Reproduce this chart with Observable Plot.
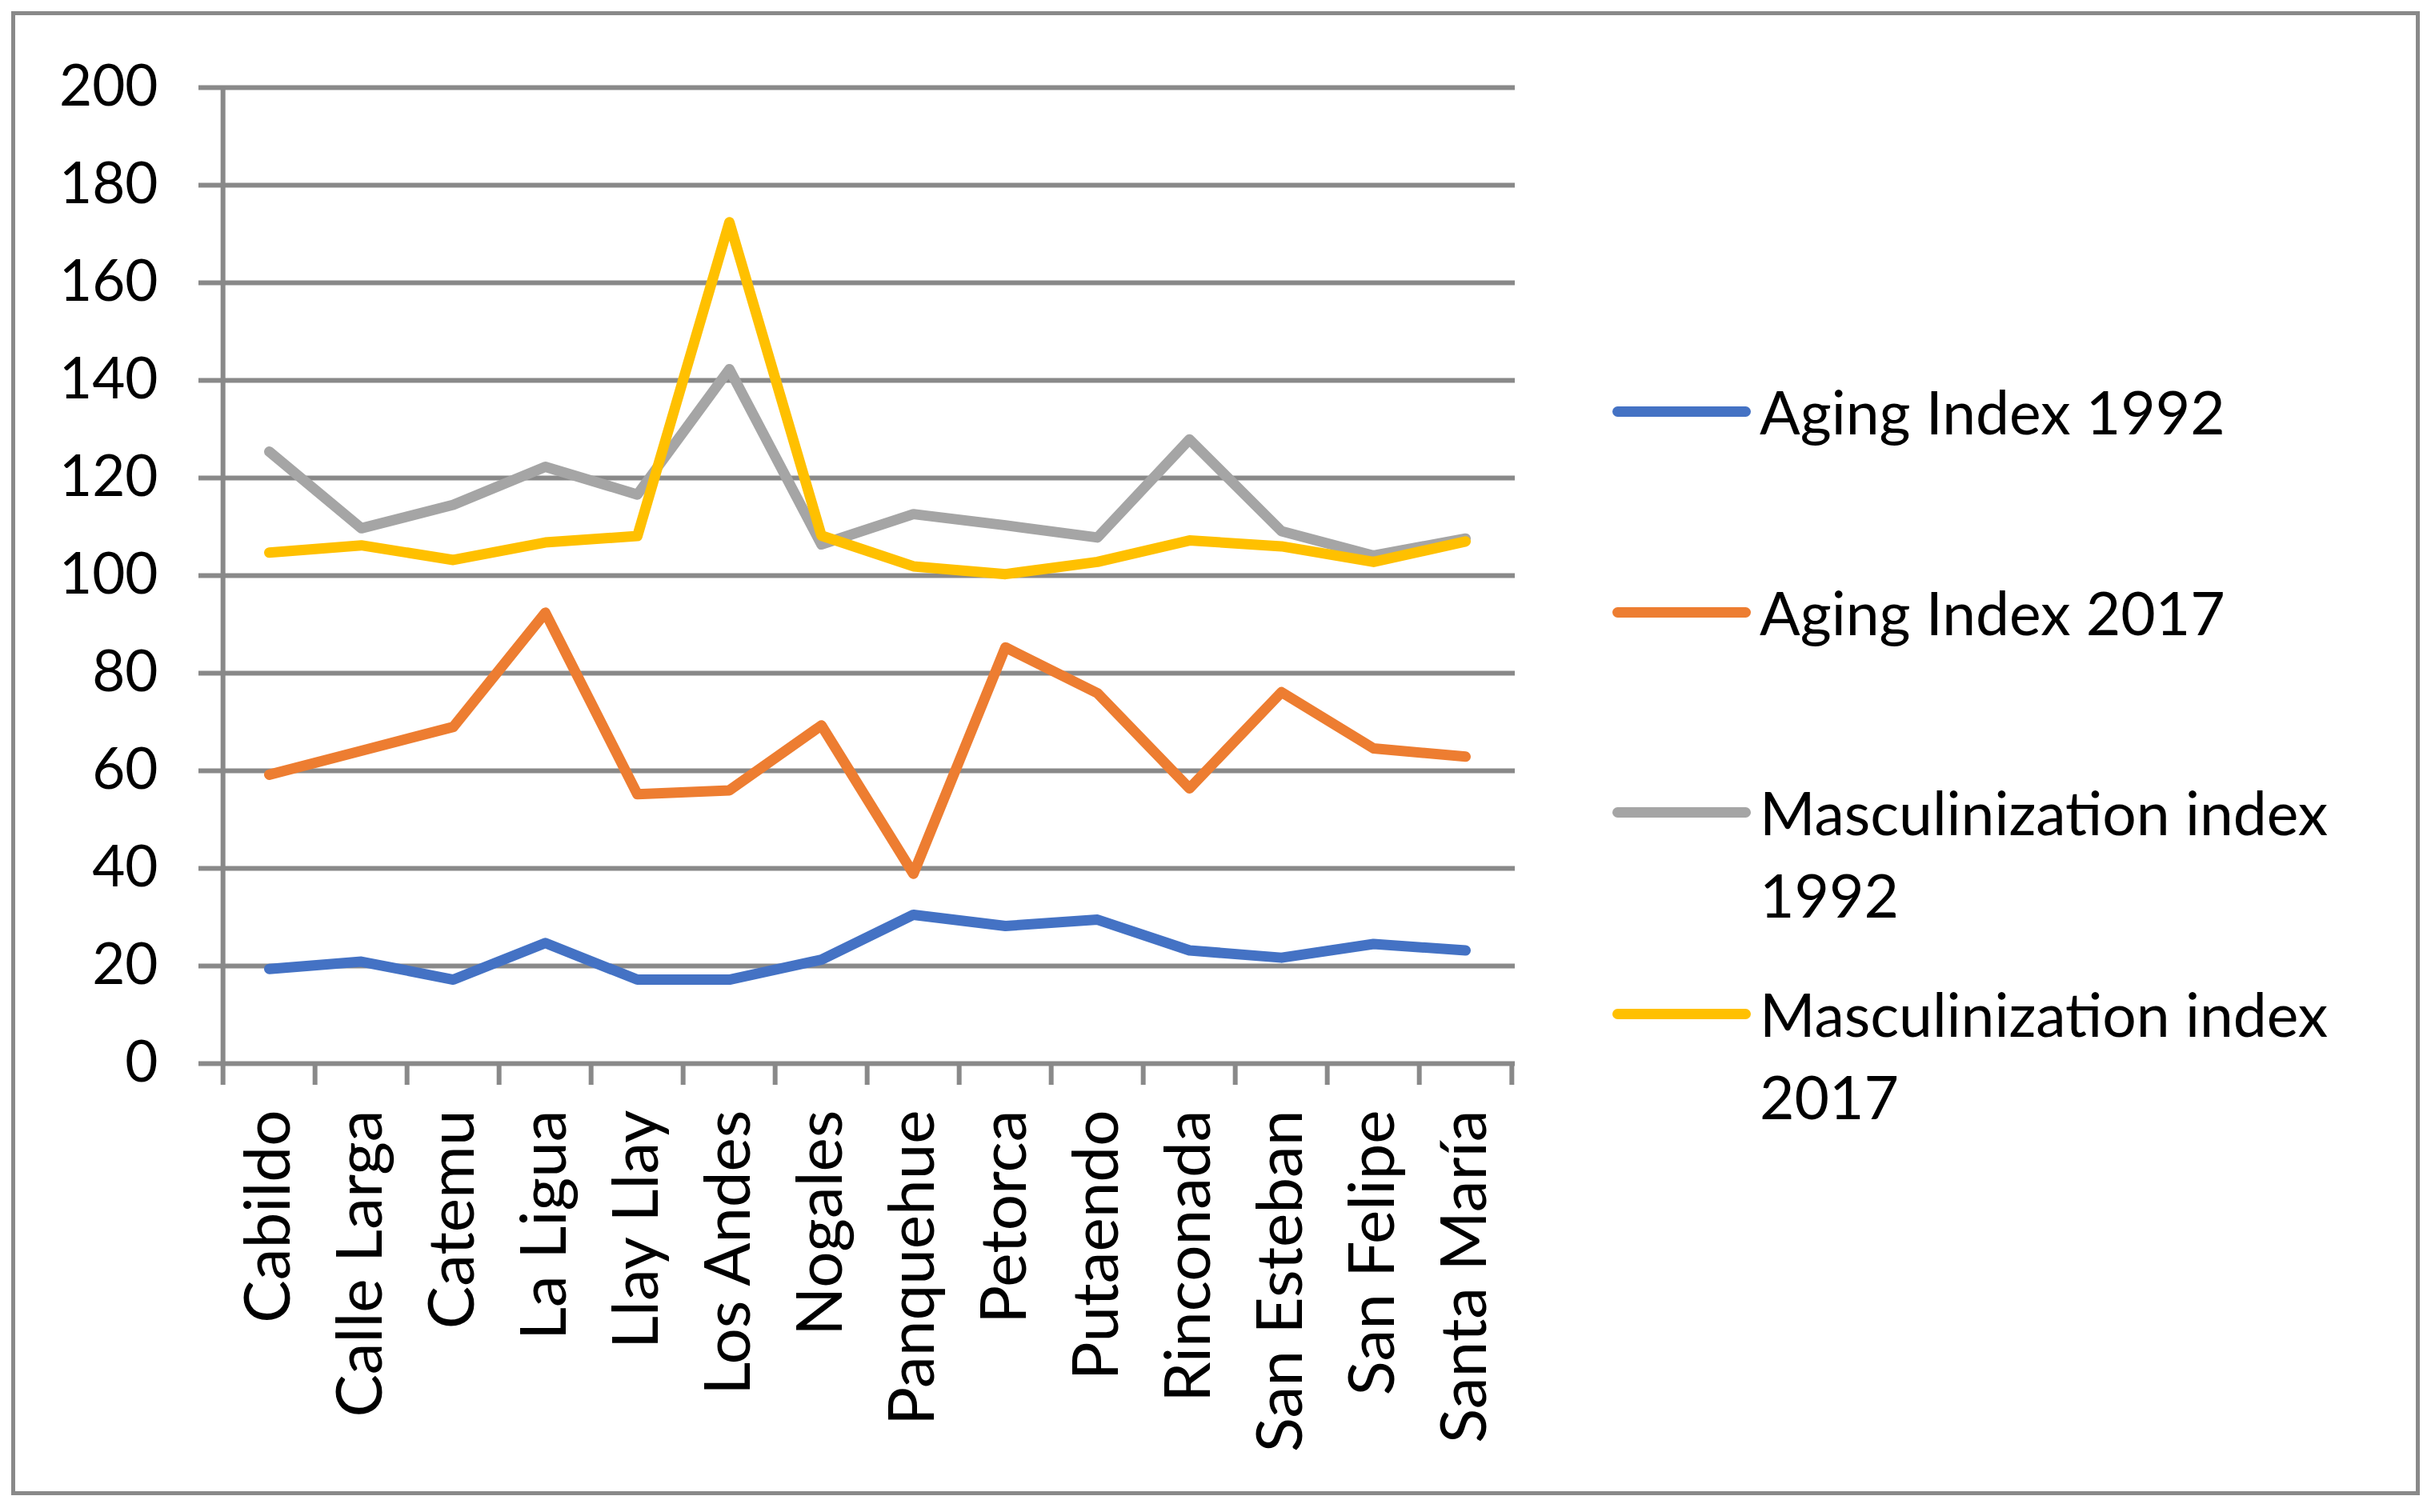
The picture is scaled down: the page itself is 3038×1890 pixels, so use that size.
<!DOCTYPE html>
<html>
<head>
<meta charset="utf-8">
<script src="https://cdn.jsdelivr.net/npm/d3@7"></script>
<script src="https://cdn.jsdelivr.net/npm/@observablehq/plot@0.6"></script>
<style>
  html, body { margin: 0; padding: 0; background: #fff; }
  #wrap { position: relative; width: 3038px; height: 1890px; overflow: hidden; font-family: Lato, sans-serif; }
  #frame { position: absolute; left: 14px; top: 14px; width: 3010px; height: 1855px; box-sizing: border-box; border: 5px solid #898989; }
  #chart { position: absolute; left: 0; top: 0; }
  .lg-swatch { position: absolute; height: 13px; border-radius: 6.5px; }
  .lg-text { position: absolute; font-size: 75px; line-height: 103px; color: #000; width: 800px; }
</style>
</head>
<body>
<div id="wrap">
  <div id="frame"></div>
  <div id="chart"></div>
  <div id="legend"></div>
</div>
<script>
const categories = ["Cabildo","Calle Larga","Catemu","La Ligua","Llay Llay","Los Andes","Nogales","Panquehue","Petorca","Putaendo","Rinconada","San Esteban","San Felipe","Santa María"];
const aging1992 = [19.4,20.9,17.2,24.7,17.2,17.2,21.3,30.5,28.2,29.5,23.2,21.7,24.5,23.2];
const aging2017 = [59.2,64.1,69.0,92.4,55.2,56.0,69.3,38.9,85.3,75.9,56.4,76.1,64.6,62.9];
const masc1992 = [125.4,109.7,114.5,122.3,116.6,142.3,106.4,112.6,110.3,107.8,127.9,109.1,104.1,107.6];
const masc2017 = [104.7,106.2,103.2,106.8,108.1,172.4,108.2,101.9,100.3,102.8,107.2,106.0,102.8,107.0];
const yTicks = [0,20,40,60,80,100,120,140,160,180,200];
const seriesNames = ["Aging Index 1992","Aging Index 2017","Masculinization index 1992","Masculinization index 2017"];
const seriesColors = ["#4472C4","#ED7D31","#A5A5A5","#FFC000"];
const seriesValues = [aging1992, aging2017, masc1992, masc2017];

const W = 3038, H = 1890;
const mL = 274, mR = 1145, mT = 109, mB = 561;
const step = (W - mL - mR) / categories.length;
const plotH = H - mT - mB;
const grid = "#898989";
const gw = 6;
const tickLen = 27;

const rows = [];
seriesValues.forEach((vals, s) => vals.forEach((v, i) => rows.push({series: seriesNames[s], cat: categories[i], value: v})));

const chart = Plot.plot({
  width: W, height: H,
  marginLeft: mL, marginRight: mR, marginTop: mT, marginBottom: mB,
  style: {fontFamily: "Lato, sans-serif", background: "transparent", color: "#000"},
  x: {type: "point", domain: categories, padding: 0.5, axis: null},
  y: {domain: [0, 200], axis: null},
  color: {domain: seriesNames, range: seriesColors},
  marks: [
    Plot.ruleY(yTicks, {stroke: grid, strokeWidth: gw}),
    Plot.ruleX([categories[0]], {stroke: grid, strokeWidth: gw, dx: -step / 2, insetBottom: -tickLen}),
    Plot.ruleX(categories.slice(1), {stroke: grid, strokeWidth: gw, dx: -step / 2, insetTop: plotH, insetBottom: -tickLen}),
    Plot.ruleX([categories[categories.length - 1]], {stroke: grid, strokeWidth: gw, dx: step / 2, insetTop: plotH, insetBottom: -tickLen}),
    Plot.axisY({ticks: yTicks, tickSize: 26, tickPadding: 51, stroke: grid, strokeWidth: gw, fill: "#000", fontSize: 71, label: null, tickFormat: d => String(d)}),
    Plot.axisX({tickRotate: -90, tickSize: 0, tickPadding: 58, fill: "#000", fontSize: 80, label: null}),
    ...seriesNames.map(name => Plot.line(rows.filter(r => r.series === name), {
      x: "cat", y: "value", stroke: seriesColors[seriesNames.indexOf(name)],
      strokeWidth: 13, strokeLinecap: "round", strokeLinejoin: "round"
    }))
  ]
});
document.getElementById("chart").appendChild(chart);

// legend (HTML, to the right of the plot)
const legend = document.getElementById("legend");
const legendCY = [514, 765, 1015, 1267];
seriesNames.forEach((name, i) => {
  const sw = document.createElement("div");
  sw.className = "lg-swatch";
  sw.style.left = "2015px";
  sw.style.width = "173px";
  sw.style.top = (legendCY[i] - 6.5) + "px";
  sw.style.background = seriesColors[i];
  legend.appendChild(sw);
  const tx = document.createElement("div");
  tx.className = "lg-text";
  tx.style.left = "2199px";
  tx.style.top = (legendCY[i] - 51.5) + "px";
  tx.textContent = name;
  legend.appendChild(tx);
});
</script>
</body>
</html>
